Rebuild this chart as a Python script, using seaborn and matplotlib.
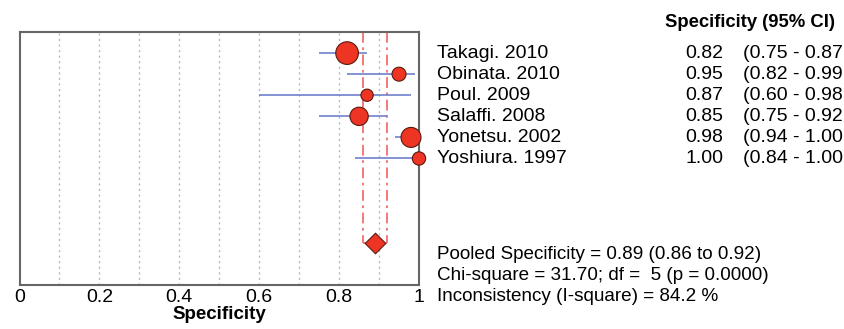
import matplotlib
matplotlib.use("Agg")
import matplotlib.pyplot as plt
import matplotlib.transforms as mtransforms
import seaborn as sns
import pandas as pd

studies = ["Takagi. 2010", "Obinata. 2010", "Poul. 2009", "Salaffi. 2008",
           "Yonetsu. 2002", "Yoshiura. 1997"]
specificity = [0.82, 0.95, 0.87, 0.85, 0.98, 1.00]
ci_low = [0.75, 0.82, 0.60, 0.75, 0.94, 0.84]
ci_high = [0.87, 0.99, 0.98, 0.92, 1.00, 1.00]
weights = [26.6, 10.1, 7.8, 17.4, 20.7, 9.2]

pooled = 0.89
pooled_low = 0.86
pooled_high = 0.92
chi_square = 31.70
df_val = 5
p_value = 0.0000
i_square = 84.2

x_ticks = [0, 0.2, 0.4, 0.6, 0.8, 1]
x_tick_labels = ["0", "0.2", "0.4", "0.6", "0.8", "1"]
grid_vals = [0.1, 0.2, 0.3, 0.4, 0.5, 0.6, 0.7, 0.8, 0.9]

sns.set_style("white")
plt.rcParams["font.family"] = ["Liberation Sans", "DejaVu Sans"]
plt.rcParams["text.color"] = "black"
plt.rcParams["axes.labelcolor"] = "black"
plt.rcParams["xtick.color"] = "black"

df = pd.DataFrame({"study": studies, "spec": specificity, "lo": ci_low,
                   "hi": ci_high, "w": weights, "row": range(len(studies))})

fig = plt.figure(figsize=(8.44, 3.29), dpi=100)
ax = fig.add_axes([19.5 / 844, 1 - 285 / 329, 399.5 / 844, 253 / 329])

ax.set_xlim(0, 1)
ax.set_ylim(11, -1)
pooled_row = 9

for g in grid_vals:
    ax.axvline(g, color="#b8b8b8", linestyle=(0, (1.5, 2.5)), linewidth=1.0, zorder=0)

dash = (0, (6, 2.5, 1.5, 2.5))
ax.plot([pooled_low, pooled_low], [-1, pooled_row], color="#f27070",
        linestyle=dash, linewidth=1.3, zorder=1)
ax.plot([pooled_high, pooled_high], [-1, pooled_row], color="#f27070",
        linestyle=dash, linewidth=1.3, zorder=1)
ax.plot([pooled_low, pooled_high], [pooled_row, pooled_row], color="#f27070",
        linestyle=dash, linewidth=1.3, zorder=1)

ax.hlines(df["row"], df["lo"], df["hi"], color="#7080cc", linewidth=1.2, zorder=2)

sns.scatterplot(data=df, x="spec", y="row", size="w", sizes=(78, 266),
                color="#ee3524", edgecolor="#5a1a10", linewidth=0.8,
                legend=False, ax=ax, zorder=3, clip_on=False)

sns.scatterplot(x=[pooled], y=[pooled_row], marker="D", s=110,
                color="#ee3524", edgecolor="#5a1a10", linewidth=0.8,
                legend=False, ax=ax, zorder=3)

for s in ax.spines.values():
    s.set_color("#666666")
    s.set_linewidth(1.5)

ax.set_yticks([])
ax.set_xticks(x_ticks)
ax.set_xticklabels(x_tick_labels, fontsize=14)
ax.tick_params(axis="x", length=0, pad=3)
ax.set_xlabel("Specificity", fontsize=13.5, fontweight="bold", labelpad=0)
ax.set_ylabel("")

trans = mtransforms.blended_transform_factory(ax.transAxes, ax.transData)
fs = 14
for i, row in df.iterrows():
    ax.text(1.045, row["row"], row["study"], transform=trans, fontsize=fs,
            va="center", ha="left")
    ax.text(1.761, row["row"], f"{row['spec']:.2f}", transform=trans, fontsize=fs,
            va="center", ha="right")
    ax.text(1.81, row["row"], f"({row['lo']:.2f} - {row['hi']:.2f}", transform=trans,
            fontsize=fs, va="center", ha="left")

ax.text(1.616, -1.46, "Specificity (95% CI)", transform=trans, fontsize=13.3,
        fontweight="bold", va="center", ha="left")

fb = 13.6
ax.text(1.045, 9.53, f"Pooled Specificity = {pooled:.2f} ({pooled_low:.2f} to {pooled_high:.2f})",
        transform=trans, fontsize=fb, va="center", ha="left")
ax.text(1.045, 10.57, f"Chi-square = {chi_square:.2f}; df =  {df_val} (p = {p_value:.4f})",
        transform=trans, fontsize=fb, va="center", ha="left")
ax.text(1.045, 11.56, f"Inconsistency (I-square) = {i_square:.1f} %",
        transform=trans, fontsize=fb, va="center", ha="left", clip_on=False)

fig.savefig("out.png", dpi=100)
